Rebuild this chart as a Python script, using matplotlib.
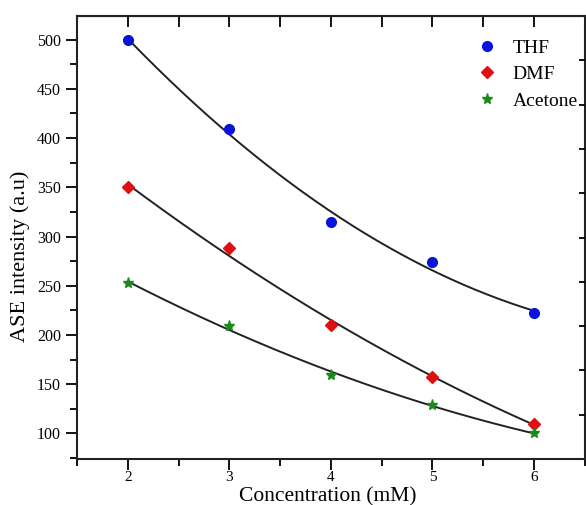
import numpy as np
import matplotlib.pyplot as plt
from matplotlib.ticker import MultipleLocator, NullFormatter

# values
conc = [2, 3, 4, 5, 6]
thf = [500, 409, 315, 274, 222]
dmf = [350, 288, 210, 157, 110]
acetone = [253, 209, 159, 129, 100]

plt.rcParams['font.family'] = ['Liberation Serif', 'DejaVu Serif']

fig = plt.figure(figsize=(5.86, 5.05), dpi=100)
ax = fig.add_axes([0.1314, 0.0911, 0.8666, 0.8772])

series = [
    ('THF', thf, 'o', '#0a14d8', 7),
    ('DMF', dmf, 'D', '#e01010', 6),
    ('Acetone', acetone, '*', '#1b8a1b', 8),
]
xfit = np.linspace(2, 6, 200)
for name, vals, mk, col, ms in series:
    coef = np.polyfit(conc, vals, 2)
    ax.plot(xfit, np.polyval(coef, xfit), color='#222222', lw=1.4, zorder=2)
    ax.plot(conc, vals, ls='none', marker=mk, color=col, ms=ms,
            mec=col, label=name, zorder=3)

ax.set_xlim(1.5, 6.5)
ax.set_ylim(74, 524)
ax.xaxis.set_minor_locator(MultipleLocator(0.5))
ax.yaxis.set_major_locator(MultipleLocator(50))
ax.yaxis.set_minor_locator(MultipleLocator(25))
ax.set_xticks(conc)
ax.tick_params(which='major', direction='out', length=8, width=1.3,
               labelsize=11.5, top=False, right=False)
ax.tick_params(axis='x', pad=1, labelsize=11)
ax.tick_params(which='minor', direction='out', length=5, width=1.3,
               top=False, right=False)
for s in ax.spines.values():
    s.set_linewidth(1.5)
    s.set_color('#222222')

# top ticks (inward, every 0.5)
top = ax.secondary_xaxis('top')
top.set_xticks(np.arange(2, 6.01, 0.5))
top.xaxis.set_major_formatter(NullFormatter())
top.tick_params(direction='in', length=8, width=1.3)

# right ticks (inward, independent spacing)
right = ax.twinx()
right.set_ylim(0, 10)
right.set_yticks(np.arange(1, 10))
right.yaxis.set_major_formatter(NullFormatter())
right.tick_params(direction='in', length=4, width=1.3)
for s in right.spines.values():
    s.set_visible(False)

fig.text(328 / 586, 1 - 501 / 505, 'Concentration (mM)', fontsize=15.5,
         ha='center', va='baseline')
fig.text(20 / 586, 1 - 256 / 505, 'ASE intensity (a.u)', fontsize=16,
         rotation=90, ha='center', va='center')

ax.legend(loc='upper left', bbox_to_anchor=(477 / 586, 1 - 39 / 505),
          bbox_transform=fig.transFigure, frameon=False, fontsize=14,
          handlelength=1.0, handletextpad=0.84, labelspacing=0.46,
          borderpad=0, borderaxespad=0)

fig.savefig('out.png', dpi=100)
